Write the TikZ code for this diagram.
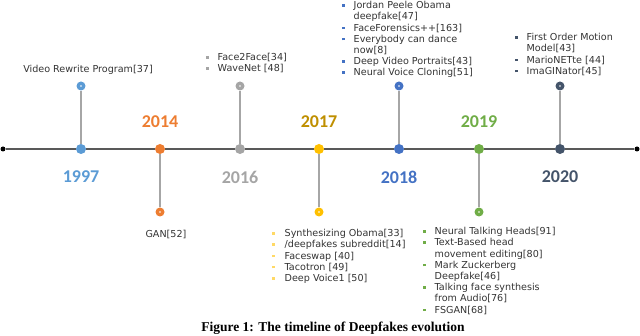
\documentclass[tikz,border=0pt]{standalone}
\usepackage{fontspec}
\setmainfont{DejaVu Sans}
\newfontfamily\yearfont{Carlito}
\newfontfamily\capfont{Liberation Serif}
\definecolor{cA}{HTML}{5B9BD5}
\definecolor{cB}{HTML}{ED7D31}
\definecolor{cC}{HTML}{A5A5A5}
\definecolor{cD}{HTML}{FFC000}
\definecolor{cDt}{HTML}{BF8F00}
\definecolor{cDb}{HTML}{FFD966}
\definecolor{cE}{HTML}{4472C4}
\definecolor{cF}{HTML}{70AD47}
\definecolor{cG}{HTML}{44546A}
\definecolor{txt}{HTML}{333333}
\definecolor{axis}{HTML}{595959}
\definecolor{stemc}{HTML}{A6A6A6}
\newcommand{\bul}[1]{\textcolor{#1}{\rule[2pt]{2.5pt}{2.5pt}}}
\begin{document}
\begin{tikzpicture}[x=1pt,y=-1pt,
  maindot/.style={circle,inner sep=0,minimum size=10pt,fill=#1},
  ringdot/.style={circle,inner sep=0,minimum size=9pt,fill=#1,
    path picture={\fill[white] (path picture bounding box.center) circle (0.9pt);}},
  enddot/.style={circle,inner sep=0,minimum size=5pt,fill=black},
  yearlbl/.style={font=\yearfont\bfseries\fontsize{18}{18}\selectfont,text=#1,inner sep=0},
  itemlist/.style={inner sep=0,anchor=north west,font=\fontsize{9.6}{11.2}\selectfont,text=txt,align=left},
  single/.style={inner sep=0,font=\fontsize{9.6}{11.2}\selectfont,text=txt},
  axisline/.style={draw=axis,line width=1.6pt},
  stemline/.style={draw=stemc,line width=1.2pt}]
\useasboundingbox (0,0) rectangle (640,336);
% axis nodes
\node[enddot] (L) at (3,149) {};
\node[enddot] (R) at (637,149) {};
\node[maindot=cA] (d1) at (81,149) {};
\node[maindot=cB] (d2) at (160,149) {};
\node[maindot=cC] (d3) at (240,149) {};
\node[maindot=cD] (d4) at (319,149) {};
\node[maindot=cE] (d5) at (399,149) {};
\node[maindot=cF] (d6) at (479,149) {};
\node[maindot=cG] (d7) at (560,149) {};
% ring dots
\node[ringdot=cA] (r1) at (81,86) {};
\node[ringdot=cB] (r2) at (160,212) {};
\node[ringdot=cC] (r3) at (240,86) {};
\node[ringdot=cD] (r4) at (319,212) {};
\node[ringdot=cE] (r5) at (399,86) {};
\node[ringdot=cF] (r6) at (479,212) {};
\node[ringdot=cG] (r7) at (560,86) {};
% axis
\draw[axisline] (L) -- (d1);
\draw[axisline] (d1) -- (d2);
\draw[axisline] (d2) -- (d3);
\draw[axisline] (d3) -- (d4);
\draw[axisline] (d4) -- (d5);
\draw[axisline] (d5) -- (d6);
\draw[axisline] (d6) -- (d7);
\draw[axisline] (d7) -- (R);
% stems
\foreach \i in {1,...,7} {\draw[stemline] (d\i) -- (r\i);}
% years
\node[yearlbl=cA] (y1) at (81,177) {1997};
\node[yearlbl=cB] (y2) at (160,122) {2014};
\node[yearlbl=cC] (y3) at (240,177) {2016};
\node[yearlbl=cDt] (y4) at (319,122) {2017};
\node[yearlbl=cE] (y5) at (399,177) {2018};
\node[yearlbl=cF] (y6) at (479,122) {2019};
\node[yearlbl=cG] (y7) at (560,177) {2020};
% texts
\node[single] (t1) at (88,70) {Video Rewrite Program[37]};
\node[single] (t2) at (166,234) {GAN[52]};
\node[itemlist] (t3) at (206,52.7) {\begin{tabular}{@{}l@{\hspace{9pt}}l@{}}
\bul{cC} & Face2Face[34]\\
\bul{cC} & WaveNet [48]
\end{tabular}};
\node[itemlist] (t4) at (272,228.7) {\begin{tabular}{@{}l@{\hspace{10pt}}l@{}}
\bul{cDb} & Synthesizing Obama[33]\\
\bul{cDb} & /deepfakes subreddit[14]\\
\bul{cDb} & Faceswap [40]\\
\bul{cDb} & Tacotron [49]\\
\bul{cDb} & Deep Voice1 [50]
\end{tabular}};
\node[itemlist] (t5) at (342,0.7) {\begin{tabular}{@{}l@{\hspace{9pt}}l@{}}
\bul{cE} & Jordan Peele Obama\\
 & deepfake[47]\\
\bul{cE} & FaceForensics++[163]\\
\bul{cE} & Everybody can dance\\
 & now[8]\\
\bul{cE} & Deep Video Portraits[43]\\
\bul{cE} & Neural Voice Cloning[51]
\end{tabular}};
\node[itemlist] (t6) at (423,226.7) {\begin{tabular}{@{}l@{\hspace{9pt}}l@{}}
\bul{cF} & Neural Talking Heads[91]\\
\bul{cF} & Text-Based head\\
 & movement editing[80]\\
\bul{cF} & Mark Zuckerberg\\
 & Deepfake[46]\\
\bul{cF} & Talking face synthesis\\
 & from Audio[76]\\
\bul{cF} & FSGAN[68]
\end{tabular}};
\node[itemlist] (t7) at (515,32.7) {\begin{tabular}{@{}l@{\hspace{9pt}}l@{}}
\bul{cG} & First Order Motion\\
 & Model[43]\\
\bul{cG} & MarioNETte [44]\\
\bul{cG} & ImaGINator[45]
\end{tabular}};
% caption
\node[inner sep=0,font=\capfont\bfseries\fontsize{13.5}{15}\selectfont] (cap) at (333,328) {Figure 1: The timeline of Deepfakes evolution};
\end{tikzpicture}
\end{document}
